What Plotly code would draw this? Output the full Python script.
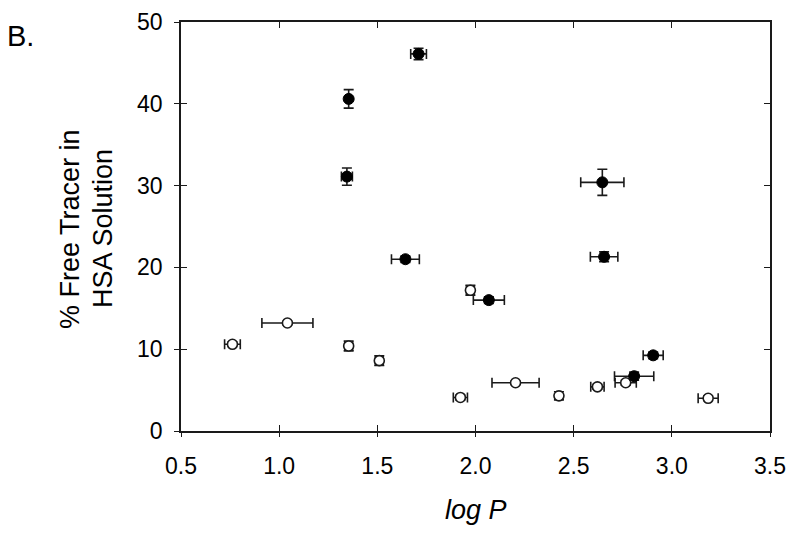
import plotly.graph_objects as go

# Filled circles
filled_x = [1.71, 1.354, 1.345, 2.646, 2.655, 1.643, 2.068, 2.905, 2.808]
filled_y = [46.1, 40.6, 31.1, 30.4, 21.3, 21.0, 16.0, 9.25, 6.7]
filled_xerr = [0.04, 0.01, 0.028, 0.11, 0.07, 0.071, 0.079, 0.051, 0.10]
filled_yerr = [0.7, 1.13, 1.05, 1.6, 0.6, 0.4, 0.4, 0.4, 0.5]

# Open circles
open_x = [0.762, 1.042, 1.354, 1.51, 1.974, 1.923, 2.204, 2.425, 2.621, 2.765, 3.185]
open_y = [10.6, 13.2, 10.4, 8.6, 17.2, 4.1, 5.9, 4.3, 5.4, 5.9, 4.0]
open_xerr = [0.04, 0.13, 0.02, 0.02, 0.02, 0.036, 0.12, 0.01, 0.034, 0.054, 0.051]
open_yerr = [0.3, 0.2, 0.6, 0.6, 0.6, 0.3, 0.2, 0.5, 0.3, 0.3, 0.3]

x_ticks = [0.5, 1.0, 1.5, 2.0, 2.5, 3.0, 3.5]
x_ticklabels = ["0.5", "1.0", "1.5", "2.0", "2.5", "3.0", "3.5"]
y_ticks = [0, 10, 20, 30, 40, 50]
y_ticklabels = ["0", "10", "20", "30", "40", "50"]

FONT = "Liberation Sans, Arial, sans-serif"
INK = "#1a1a1a"

err_style = dict(type="data", visible=True, color=INK, thickness=1.6, width=5)

fig = go.Figure()
fig.add_trace(go.Scatter(
    x=open_x, y=open_y, mode="markers",
    marker=dict(symbol="circle", size=10, color="white", line=dict(color=INK, width=1.6)),
    error_x=dict(array=open_xerr, **err_style),
    error_y=dict(array=open_yerr, **err_style),
    showlegend=False,
))
fig.add_trace(go.Scatter(
    x=filled_x, y=filled_y, mode="markers",
    marker=dict(symbol="circle", size=11, color="black", line=dict(color="black", width=1)),
    error_x=dict(array=filled_xerr, **err_style),
    error_y=dict(array=filled_yerr, **err_style),
    showlegend=False,
))
# invisible trace to carry the overlay axes (outer tick halves)
fig.add_trace(go.Scatter(x=open_x, y=open_y, xaxis="x2", yaxis="y2", mode="markers",
                         marker=dict(opacity=0), hoverinfo="skip", showlegend=False))

axis_common = dict(showgrid=False, zeroline=False, linecolor=INK, linewidth=1.5,
                   tickcolor=INK, tickwidth=1.3, automargin=False)

# page body has an 8px default margin, so the figure is 8px smaller each way
fig.update_layout(
    width=792, height=528,
    margin=dict(l=173, r=30, t=14, b=105),
    paper_bgcolor="white", plot_bgcolor="white",
    font=dict(family=FONT, color="black"),
    xaxis=dict(range=[0.5, 3.5], tickvals=x_ticks, ticktext=x_ticklabels,
               ticks="inside", ticklen=6, mirror="ticks", showline=True,
               ticklabeloverflow="allow",
               tickfont=dict(size=23, family=FONT), ticklabelstandoff=14, **axis_common),
    yaxis=dict(range=[0, 50], tickvals=y_ticks, ticktext=y_ticklabels,
               ticks="inside", ticklen=6, mirror="ticks", showline=True,
               ticklabeloverflow="allow",
               tickfont=dict(size=23, family=FONT), ticklabelstandoff=12, **axis_common),
    xaxis2=dict(range=[0.5, 3.5], tickvals=x_ticks, overlaying="x", side="bottom", anchor="y",
                ticks="outside", ticklen=5, showticklabels=False, showline=False, **axis_common),
    yaxis2=dict(range=[0, 50], tickvals=y_ticks, overlaying="y", side="left", anchor="x",
                ticks="outside", ticklen=6, showticklabels=False, showline=False, **axis_common),
    annotations=[
        dict(text="B.", xref="paper", yref="paper", x=-0.2988, y=0.966,
             xanchor="left", yanchor="middle", showarrow=False,
             font=dict(size=29, family=FONT, color="black")),
        dict(text="% Free Tracer in", xref="paper", yref="paper", x=-0.1885, y=0.494,
             xanchor="center", yanchor="middle", textangle=-90, showarrow=False,
             font=dict(size=27, family=FONT, color="black")),
        dict(text="HSA Solution", xref="paper", yref="paper", x=-0.1324, y=0.494,
             xanchor="center", yanchor="middle", textangle=-90, showarrow=False,
             font=dict(size=27, family=FONT, color="black")),
        dict(text="<i>log P</i>", xref="paper", yref="paper", x=0.5, y=-0.192,
             xanchor="center", yanchor="middle", showarrow=False,
             font=dict(size=27, family=FONT, color="black")),
    ],
)

fig.write_html("out.html")
